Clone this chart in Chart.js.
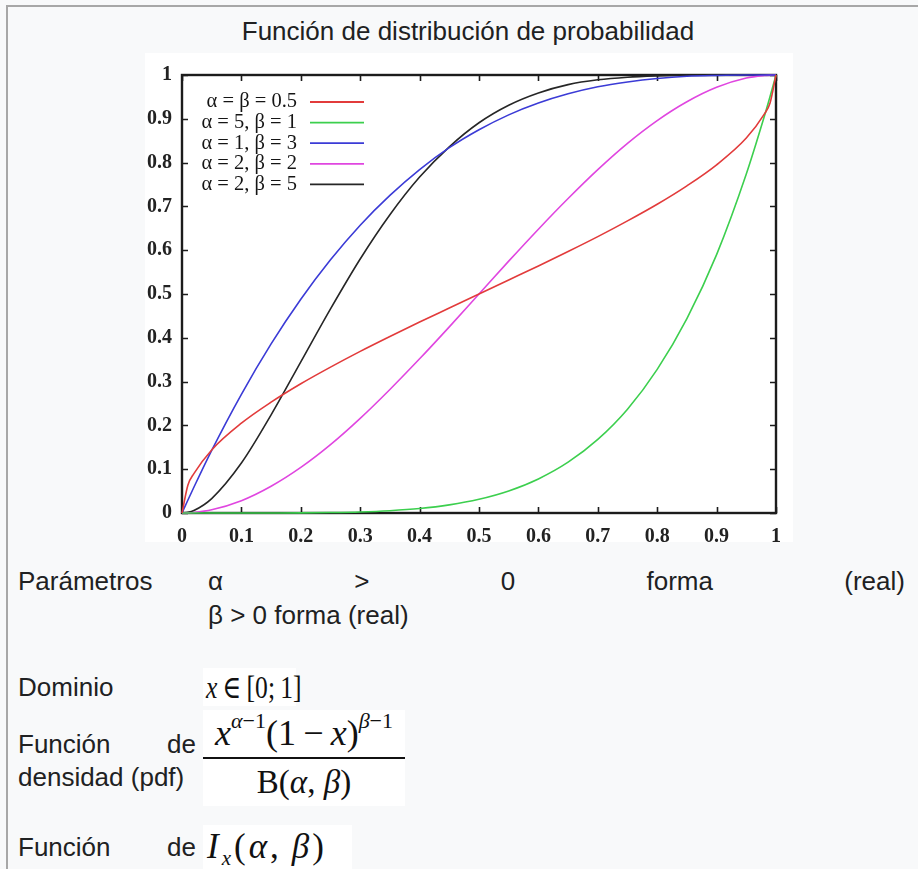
<!DOCTYPE html>
<html>
<head>
<meta charset="utf-8">
<script src="https://cdn.jsdelivr.net/npm/chart.js@4"></script>
<style>
  body { margin: 0; width: 918px; height: 869px; overflow: hidden; background: #f8f9fa;
         font-family: "Liberation Sans", Arial, sans-serif; color: #202122; position: relative; }
  .marco { position: absolute; left: 6px; top: 5px; right: 0; bottom: 0;
           border-top: 2px solid #a7a7a7; border-left: 2px solid #a7a7a7; }
  .titulo { position: absolute; left: 18px; width: 900px; top: 16px; text-align: center;
            font-size: 26px; line-height: 30px; }
  .grafico { position: absolute; left: 145px; top: 53px; width: 648px; height: 489px; background: #fff; }
  .t { position: absolute; font-size: 26px; line-height: 35px; white-space: nowrap; }
  .repartido { position: absolute; display: flex; justify-content: space-between; font-size: 26px; line-height: 35px; }
  .mate { position: absolute; background: #fff; font-family: "Liberation Serif", "DejaVu Serif", serif;
          color: #111; white-space: nowrap; }
  .mate i { font-style: italic; }
  .estrecho { position: absolute; left: 3px; top: 0; transform: scaleX(0.8); transform-origin: left center; }
  .frac { display: flex; flex-direction: column; align-items: center; }
  .frac .num { font-size: 36px; line-height: 42px; padding: 2px 0 3px; }
  .frac .den { border-top: 2px solid #111; font-size: 33px; line-height: 46px; align-self: stretch; text-align: center; }
  sup { font-size: 22px; vertical-align: 17px; line-height: 0; }
  sub { font-size: 21px; vertical-align: -7px; line-height: 0; }
</style>
</head>
<body>
<div class="marco"></div>
<div class="titulo">Función de distribución de probabilidad</div>
<div class="grafico"><canvas id="cdf" width="648" height="489"></canvas></div>

<div class="t" style="left:18px; top:564px;">Parámetros</div>
<div class="repartido" style="left:208px; width:697px; top:564px;">
  <span>α</span><span>&gt;</span><span>0</span><span>forma</span><span>(real)</span>
</div>
<div class="t" style="left:208px; top:598px;">β &gt; 0 forma (real)</div>

<div class="t" style="left:18px; top:670px;">Dominio</div>
<div class="mate" style="left:203px; top:668px; width:93px; height:38px; font-size:32px; line-height:38px;"><span class="estrecho"><i>x</i>&thinsp;∈&thinsp;[0;&thinsp;1]</span></div>

<div class="repartido" style="left:18px; width:178px; top:727px;"><span>Función</span><span>de</span></div>
<div class="t" style="left:18px; top:760px;">densidad (pdf)</div>
<div class="mate frac" style="left:203px; top:710px; width:202px; height:96px;">
  <div class="num"><i>x</i><sup><i>α</i>−1</sup>(1&thinsp;−&thinsp;<i>x</i>)<sup><i>β</i>−1</sup></div>
  <div class="den">B(<i>α</i>, <i>β</i>)</div>
</div>

<div class="repartido" style="left:18px; width:178px; top:830px;"><span>Función</span><span>de</span></div>
<div class="mate" style="left:203px; top:825px; width:149px; height:44px; font-size:35px; line-height:44px; letter-spacing:3px; padding-left:4px; box-sizing:border-box;"><i>I</i><sub><i>x</i></sub>(<i>α</i>,&thinsp;<i>β</i>)</div>

<script>
// puntos de abscisa comunes a todas las curvas
const xs = [0, 0.01, 0.02, 0.05, 0.1, 0.15, 0.2, 0.25, 0.3, 0.35, 0.4, 0.45, 0.5,
            0.55, 0.6, 0.65, 0.7, 0.75, 0.8, 0.85, 0.9, 0.95, 0.98, 0.99, 1]

// F(x) de cada beta
const beta05_05 = [0, 0.064, 0.090, 0.144, 0.205, 0.253, 0.295, 0.333, 0.369, 0.403, 0.436, 0.468, 0.5,
                   0.532, 0.564, 0.597, 0.631, 0.667, 0.705, 0.747, 0.795, 0.856, 0.910, 0.936, 1]
const beta5_1 = [0, 0, 0, 0, 0, 0.0001, 0.0003, 0.001, 0.0024, 0.0053, 0.0102, 0.0185, 0.0313,
                 0.0503, 0.0778, 0.116, 0.168, 0.237, 0.328, 0.444, 0.590, 0.774, 0.904, 0.951, 1]
const beta1_3 = [0, 0.0297, 0.0588, 0.143, 0.271, 0.386, 0.488, 0.578, 0.657, 0.725, 0.784, 0.834, 0.875,
                 0.909, 0.936, 0.957, 0.973, 0.984, 0.992, 0.997, 0.999, 1, 1, 1, 1]
const beta2_2 = [0, 0.0003, 0.0012, 0.0073, 0.028, 0.061, 0.104, 0.156, 0.216, 0.282, 0.352, 0.425, 0.5,
                 0.575, 0.648, 0.718, 0.784, 0.844, 0.896, 0.939, 0.972, 0.993, 0.9988, 0.9997, 1]
const beta2_5 = [0, 0.0015, 0.0057, 0.033, 0.114, 0.224, 0.345, 0.466, 0.580, 0.681, 0.767, 0.836, 0.891,
                 0.931, 0.959, 0.978, 0.989, 0.995, 0.998, 0.9996, 0.9999, 1, 1, 1, 1]

const etiquetas = ['α = β = 0.5', 'α = 5, β = 1', 'α = 1, β = 3', 'α = 2, β = 2', 'α = 2, β = 5']
const colores = ['#e23b3b', '#3ccf4e', '#3b3bd6', '#e046e0', '#262626']
const series = [beta05_05, beta5_1, beta1_3, beta2_2, beta2_5]

const xTicks = ['0', '0.1', '0.2', '0.3', '0.4', '0.5', '0.6', '0.7', '0.8', '0.9', '1']
const yTicks = ['0', '0.1', '0.2', '0.3', '0.4', '0.5', '0.6', '0.7', '0.8', '0.9', '1']

/*=============================================
MARCO Y MARCAS HACIA DENTRO (estilo gnuplot)
=============================================*/

const marcoGnuplot = {
    id: 'marcoGnuplot',
    beforeDatasetsDraw(chart) {
        const {ctx, chartArea: a, scales: {x, y}} = chart
        ctx.save()
        ctx.strokeStyle = '#1c1c1c'
        ctx.lineWidth = 1.6
        ctx.beginPath()
        x.ticks.forEach(t => {
            const px = Math.round(x.getPixelForValue(t.value)) + 0.5
            ctx.moveTo(px, a.bottom); ctx.lineTo(px, a.bottom - 6)
            ctx.moveTo(px, a.top); ctx.lineTo(px, a.top + 6)
        })
        y.ticks.forEach(t => {
            const py = Math.round(y.getPixelForValue(t.value)) + 0.5
            ctx.moveTo(a.left, py); ctx.lineTo(a.left + 6, py)
            ctx.moveTo(a.right, py); ctx.lineTo(a.right - 6, py)
        })
        ctx.stroke()
        ctx.lineWidth = 2.4
        ctx.strokeRect(a.left, a.top, a.right - a.left, a.bottom - a.top)
        ctx.restore()
    }
}

/*=============================================
LEYENDA: texto a la izquierda, muestra de linea a la derecha
=============================================*/

const leyendaGnuplot = {
    id: 'leyendaGnuplot',
    afterDatasetsDraw(chart) {
        const {ctx, chartArea: a} = chart
        ctx.save()
        ctx.font = '20.5px "Liberation Serif", "Times New Roman", serif'
        ctx.fillStyle = '#151515'
        ctx.textAlign = 'right'
        ctx.textBaseline = 'middle'
        chart.data.datasets.forEach((ds, i) => {
            const yy = a.top + 27 + i * 20.6
            ctx.fillText(ds.label, a.left + 115, yy)
            ctx.strokeStyle = ds.borderColor
            ctx.lineWidth = 1.8
            ctx.beginPath()
            ctx.moveTo(a.left + 128, yy)
            ctx.lineTo(a.left + 182, yy)
            ctx.stroke()
        })
        ctx.restore()
    }
}

const fuenteEjes = { family: '"Liberation Serif", "Times New Roman", serif', size: 20, weight: 'bold' }

let config = {
    type: 'line',
    data: {
        datasets: series.map((vals, i) => ({
            label: etiquetas[i],
            data: xs.map((x, j) => ({ x: x, y: vals[j] })),
            borderColor: colores[i],
            borderWidth: 1.6,
            pointRadius: 0,
            fill: false,
            cubicInterpolationMode: 'monotone',
            clip: 4
        }))
    },
    options: {
        responsive: false,
        animation: false,
        layout: { padding: { top: 9, right: 5, left: 0, bottom: 0 } },
        plugins: {
            legend: { display: false },
            tooltip: { enabled: false }
        },
        scales: {
            x: {
                type: 'linear', min: 0, max: 1,
                grid: { display: false, drawTicks: false },
                border: { display: false },
                ticks: {
                    stepSize: 0.1, padding: 12, color: '#222', font: fuenteEjes,
                    maxRotation: 0, autoSkip: false,
                    callback: (v, i) => xTicks[i]
                },
                afterFit: s => { s.height = 29 }
            },
            y: {
                type: 'linear', min: 0, max: 1,
                grid: { display: false, drawTicks: false },
                border: { display: false },
                ticks: {
                    stepSize: 0.1, padding: 10, color: '#222', font: fuenteEjes,
                    autoSkip: false,
                    callback: (v, i) => yTicks[i]
                },
                afterFit: s => { s.width = 37 }
            }
        }
    },
    plugins: [marcoGnuplot, leyendaGnuplot]
}

let ctx = document.getElementById('cdf').getContext('2d')
window.graficoBeta = new Chart(ctx, config)
</script>
</body>
</html>
